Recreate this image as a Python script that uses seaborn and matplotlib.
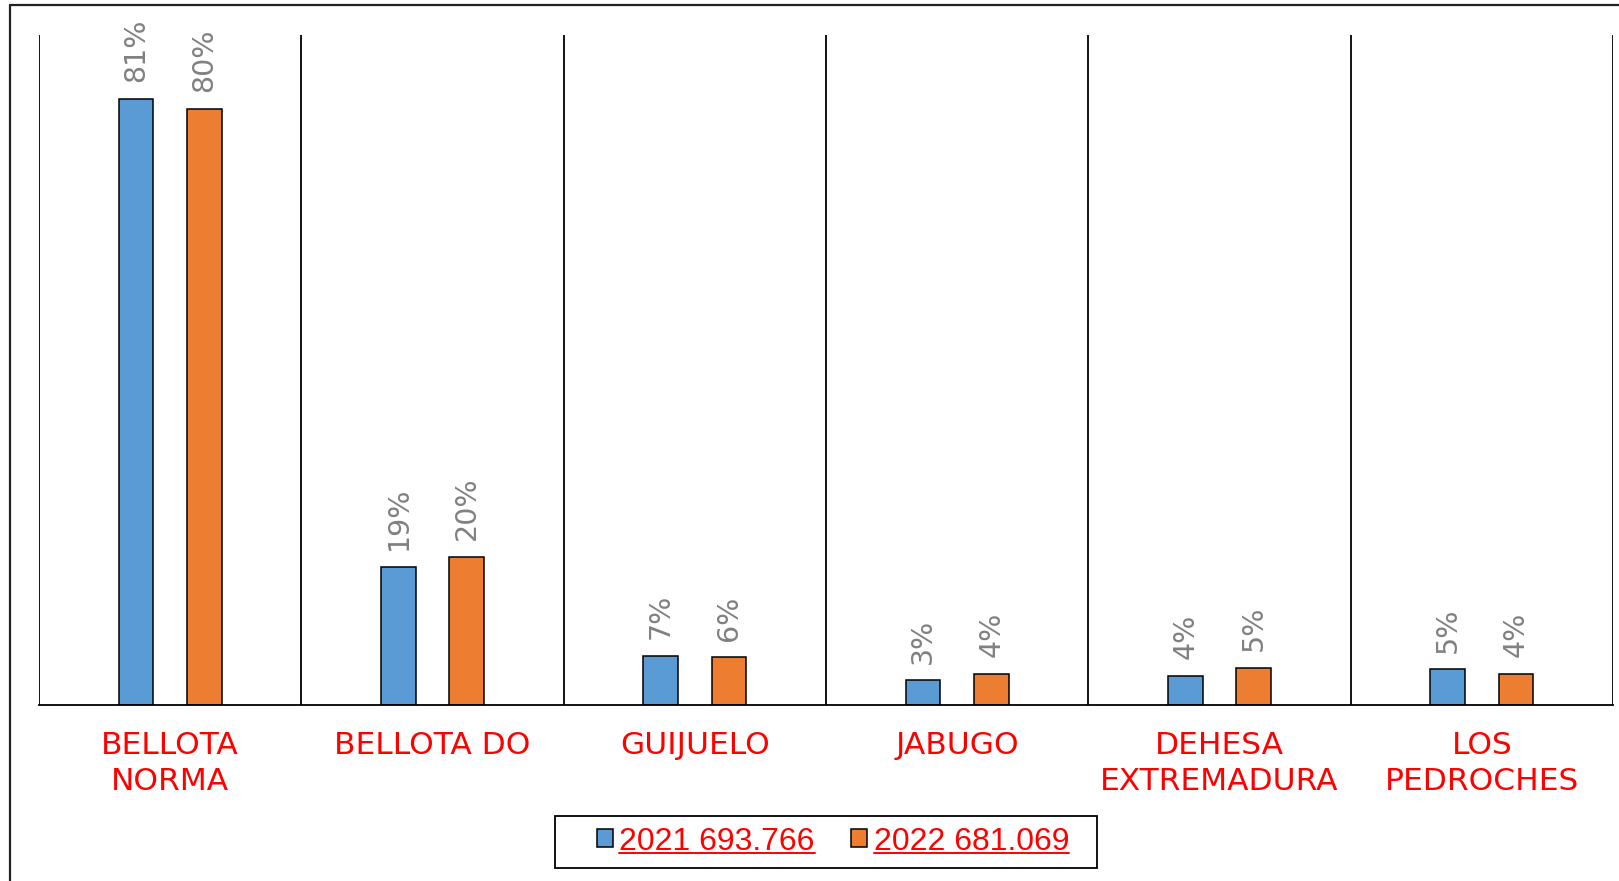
import matplotlib
matplotlib.use("Agg")
import matplotlib.pyplot as plt
import seaborn as sns
import pandas as pd
from matplotlib.patches import Patch, Rectangle
from matplotlib.lines import Line2D

categories = ["BELLOTA\nNORMA", "BELLOTA DO", "GUIJUELO", "JABUGO",
              "DEHESA\nEXTREMADURA", "LOS\nPEDROCHES"]
series = ["2021 693.766", "2022 681.069"]
share_2021 = [81.4, 18.6, 6.6, 3.3, 3.9, 4.8]
share_2022 = [80.1, 19.9, 6.4, 4.2, 5.0, 4.2]
colors = ["#5B9BD5", "#ED7D31"]

df = pd.DataFrame({
    "cat": categories * 2,
    "serie": [series[0]] * len(categories) + [series[1]] * len(categories),
    "pct": share_2021 + share_2022,
})

sns.set_style("white")
plt.rcParams["font.family"] = ["DejaVu Sans"]

fig = plt.figure(figsize=(16.19, 8.81), dpi=100)
ax = fig.add_axes([0.0241, 0.1998, 0.9722, 0.7605])

sns.barplot(data=df, x="cat", y="pct", hue="serie", palette=colors,
            saturation=1, width=0.52, gap=0.49, edgecolor="black",
            linewidth=1.1, legend=False, ax=ax)

ax.set_ylim(0, 90)
ax.set_xlim(-0.5, len(categories) - 0.5)
# separators between categories
ax.vlines([i - 0.5 for i in range(len(categories) + 1)], 0, 90,
          color="black", lw=1.3)

for cont, vals in zip(ax.containers, [share_2021, share_2022]):
    ax.bar_label(cont, labels=[f"{round(v)}%" for v in vals], rotation=90,
                 padding=12, color="#808080", fontsize=20.5)

ax.set_yticks([])
ax.set_xlabel("")
ax.set_ylabel("")
ax.tick_params(axis="x", length=0, pad=19, labelsize=22.5, labelcolor="red")
for t in ax.get_xticklabels():
    t.set_linespacing(1.27)
for s in ["top", "right", "left"]:
    ax.spines[s].set_visible(False)
ax.spines["bottom"].set_color("black")
ax.spines["bottom"].set_linewidth(1.3)

# legend
handles = [Patch(facecolor=c, edgecolor="black", linewidth=1.1) for c in colors]
leg = fig.legend(handles, series, loc="center", bbox_to_anchor=(0.5145, 0.0448),
                 ncol=2, frameon=False, prop={"family": "Liberation Sans", "size": 23},
                 labelcolor="red", handlelength=0.5, handleheight=0.5,
                 handletextpad=0.2, columnspacing=1.15)
fig.add_artist(Rectangle((555 / 1619, 1 - 868 / 881), 542 / 1619, 52 / 881,
                         transform=fig.transFigure, fill=False,
                         edgecolor="black", lw=1.3))

# outer chart border (top and left)
fig.add_artist(Line2D([10 / 1619, 1], [1 - 5 / 881] * 2, color="#222222", lw=1.6))
fig.add_artist(Line2D([10 / 1619] * 2, [0, 1 - 5 / 881], color="#222222", lw=1.6))

# underline the legend entries
fig.canvas.draw()
inv = fig.transFigure.inverted()
for t in leg.get_texts():
    bb = t.get_window_extent()
    (x0, y0), (x1, _) = inv.transform([(bb.x0, bb.y0 + 4), (bb.x1, bb.y0 + 4)])
    fig.add_artist(Line2D([x0, x1], [y0, y0], color="red", lw=1.4))

fig.savefig("out.png", dpi=100)
